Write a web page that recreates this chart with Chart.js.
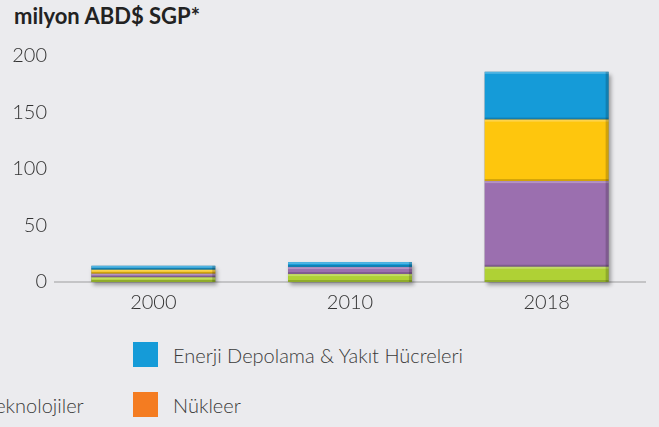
<!DOCTYPE html>
<html>
<head>
<meta charset="utf-8">
<script src="https://cdn.jsdelivr.net/npm/chart.js@4"></script>
<style>
  html, body { margin: 0; padding: 0; background: #EBEBEE; overflow: hidden; }
  body { width: 659px; height: 427px; position: relative; font-family: 'Lato', 'Open Sans', sans-serif; }
  #title { position: absolute; left: 14px; top: 2px; font-size: 22px; font-weight: 700; color: #222; }
  #wrap { position: absolute; left: 0; top: 0; width: 659px; height: 320px; }
  .leg { position: absolute; display: flex; align-items: center; font-size: 20px; font-weight: 300; color: #3a3a3a; white-space: nowrap; }
  .leg span.box { display: inline-block; width: 25px; height: 25px; margin-right: 15px; }
</style>
</head>
<body>
<div id="title">milyon ABD$ SGP*</div>
<div id="wrap"><canvas id="grafico"></canvas></div>
<div id="legend"></div>
<script>
const years = ['2000', '2010', '2018'];
const yTicks = [0, 50, 100, 150, 200];

// seriler (alttan üste)
const verimlilik = [4.1, 7.0, 13.5];
const kesisen = [3.2, 6.2, 75.8];
const yenilenebilir = [3.5, 0, 54.4];
const depolama = [3.5, 4.4, 42.3];
const nukleer = [0, 0, 0];
const fosil = [0, 0, 0];

const names = ['Enerji Verimliliği', 'Diğer Kesişen Teknolojiler', 'Yenilenebilir Enerji', 'Enerji Depolama & Yakıt Hücreleri', 'Nükleer', 'Fosil Yakıtlar'];
const colors = ['#AFD135', '#9B6FAF', '#FEC60D', '#159BD8', '#F47C21', '#6D6E71'];
const series = [verimlilik, kesisen, yenilenebilir, depolama, nukleer, fosil];

// legend columns (the left ones fall off the page, as in the original)
const legendPos = [
  [-430, 342], [-176, 392], [-430, 392], [133, 342], [133, 392], [-176, 342]
];
const legend = document.getElementById('legend');
names.forEach((n, i) => {
  const d = document.createElement('div');
  d.className = 'leg';
  d.style.left = legendPos[i][0] + 'px';
  d.style.top = legendPos[i][1] + 'px';
  d.innerHTML = '<span class="box" style="background:' + colors[i] + '"></span>' + n;
  legend.appendChild(d);
});

// shadow under each stack + simple bevel on segments
const bevel = {
  id: 'bevel',
  beforeDatasetsDraw(chart) {
    const ctx = chart.ctx;
    const first = chart.getDatasetMeta(0);
    const y = chart.scales.y;
    ctx.save();
    years.forEach((yr, i) => {
      const total = series.reduce((s, arr) => s + arr[i], 0);
      const el = first.data[i];
      const top = y.getPixelForValue(total);
      const base = y.getPixelForValue(0);
      ctx.shadowColor = 'rgba(0,0,0,0.35)';
      ctx.shadowBlur = 4;
      ctx.shadowOffsetX = 2;
      ctx.shadowOffsetY = 3;
      ctx.fillStyle = 'rgba(120,120,120,1)';
      ctx.fillRect(el.x - el.width / 2, top, el.width, base - top);
    });
    ctx.restore();
  },
  afterDatasetsDraw(chart) {
    const ctx = chart.ctx;
    ctx.save();
    chart.data.datasets.forEach((ds, di) => {
      chart.getDatasetMeta(di).data.forEach((el, i) => {
        if (!ds.data[i]) return;
        const l = el.x - el.width / 2, r = el.x + el.width / 2;
        const t = Math.min(el.y, el.base), b = Math.max(el.y, el.base);
        ctx.fillStyle = 'rgba(255,255,255,0.25)';
        ctx.fillRect(l, t, el.width, Math.min(2, b - t));
        ctx.fillStyle = 'rgba(0,0,0,0.18)';
        ctx.fillRect(r - 3, t, 3, b - t);
        ctx.fillRect(l, b - Math.min(2, b - t), el.width, Math.min(2, b - t));
      });
    });
    ctx.restore();
  }
};

const ctx = document.getElementById('grafico').getContext('2d');
new Chart(ctx, {
  type: 'bar',
  data: {
    labels: years,
    datasets: names.map((n, i) => ({
      label: n,
      data: series[i],
      backgroundColor: colors[i],
      borderWidth: 0,
      barPercentage: 0.63,
      categoryPercentage: 1
    }))
  },
  options: {
    responsive: true,
    maintainAspectRatio: false,
    animation: false,
    layout: { padding: { top: 56, right: 14, left: 0, bottom: 0 } },
    plugins: {
      legend: { display: false },
      tooltip: { enabled: false }
    },
    scales: {
      x: {
        stacked: true,
        grid: { display: false, drawTicks: false },
        border: { display: true, color: '#C4C4C6', width: 2 },
        ticks: { color: '#333', font: { family: 'Lato', size: 20, weight: 300 }, padding: 9 },
        afterFit: s => { s.height = 38; }
      },
      y: {
        stacked: true,
        min: 0,
        max: 200,
        afterBuildTicks: s => { s.ticks = yTicks.map(v => ({ value: v })); },
        grid: { display: false, drawTicks: false },
        border: { display: false },
        ticks: { color: '#333', font: { family: 'Lato', size: 20, weight: 300 }, padding: 8 },
        afterFit: s => { s.width = 55; }
      }
    }
  },
  plugins: [bevel]
});
</script>
</body>
</html>
